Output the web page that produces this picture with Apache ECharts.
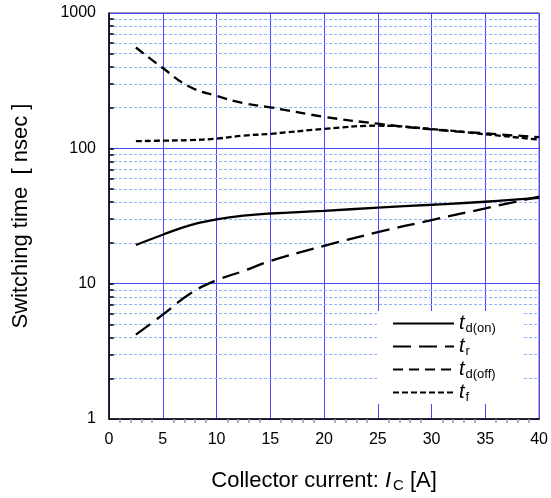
<!DOCTYPE html>
<html>
<head>
<meta charset="utf-8">
<script src="https://cdn.jsdelivr.net/npm/echarts@6/dist/echarts.min.js"></script>
<style>
  html, body { margin: 0; padding: 0; background: #fff; }
  #chart { width: 551px; height: 498px; }
</style>
</head>
<body>
<div id="chart"></div>
<script>
// Collector current [A]
const current = [2.5, 5, 7.5, 10, 12.5, 15, 20, 25, 30, 35, 40];
// Switching times [nsec]
const tdOn  = [19.3, 23, 27, 29.8, 31.8, 33, 34.5, 36.5, 38.3, 40.3, 43];
const tR    = [4.2, 5.9, 8.4, 10.6, 12.4, 14.7, 19, 24, 29.5, 36, 44];
const tdOff = [556, 392, 285, 244, 216, 201, 171, 152, 138, 129, 121];
const tF    = [113, 114, 115, 118, 124, 128, 139, 147, 139, 127, 116];

// Axis ticks
const xTicks = [0, 5, 10, 15, 20, 25, 30, 35, 40];
const yTicks = [1, 10, 100, 1000];
const yMinor = [2, 3, 4, 5, 6, 7, 8, 9, 20, 30, 40, 50, 60, 70, 80, 90, 200, 300, 400, 500, 600, 700, 800, 900];

const subs = { 'td(on)': 'd(on)', 'tr': 'r', 'td(off)': 'd(off)', 'tf': 'f' };

const pairs = ys => current.map((x, i) => [x, ys[i]]);

const FONT = '"Liberation Sans", Arial, sans-serif';

function curve(name, ys, dash) {
  return {
    name: name,
    type: 'line',
    data: pairs(ys),
    smooth: 0.45,
    symbol: 'none',
    lineStyle: { color: '#000', width: 2.3, type: dash },
    itemStyle: { color: '#000' },
    silent: true,
    z: 5
  };
}

// minor log gridlines and left-edge minor ticks
const minorGrid = yMinor.map(v => ({ yAxis: v }));
const leftTicks = yMinor.concat([10, 100]).map(v => [
  { coord: [0, v] }, { coord: [0.45, v] }
]);

const chart = echarts.init(document.getElementById('chart'));
chart.setOption({
  animation: false,
  backgroundColor: '#fff',
  textStyle: { fontFamily: FONT },
  grid: {
    left: 109, right: 8, top: 13, bottom: 75,
    show: true, borderColor: '#33337a', borderWidth: 1, backgroundColor: 'transparent'
  },
  xAxis: {
    type: 'value', min: 0, max: 40, interval: 5,
    axisLine: { lineStyle: { color: '#000', width: 1.5 } },
    axisTick: { show: false },
    minorTick: { show: true, splitNumber: 5, length: 4, lineStyle: { color: '#999', width: 1.5 } },
    axisLabel: { fontSize: 16, color: '#000', margin: 13, fontFamily: FONT },
    splitLine: { show: true, lineStyle: { color: '#4848ff', width: 1 } },
    name: '{a|Collector current: }{i|I}{s|C}{a| [A]}',
    nameLocation: 'middle', nameGap: 50,
    nameTextStyle: {
      rich: {
        a: { fontSize: 22, color: '#000', fontFamily: FONT },
        i: { fontSize: 22, color: '#000', fontStyle: 'italic', fontFamily: FONT },
        s: { fontSize: 15, color: '#000', fontFamily: FONT, padding: [9, 0, 0, 2] }
      }
    }
  },
  yAxis: {
    type: 'log', logBase: 10, min: 1, max: 1000,
    axisLine: { show: true, lineStyle: { color: '#000', width: 1.5 } },
    axisTick: { show: false },
    axisLabel: { fontSize: 16, color: '#000', margin: 13, fontFamily: FONT,
      formatter: v => String(v) },
    splitLine: { show: true, lineStyle: { color: '#4848ff', width: 1 } },
    name: 'Switching time  [ nsec ]',
    nameLocation: 'middle', nameGap: 77,
    nameTextStyle: { fontSize: 22, color: '#000', fontFamily: FONT }
  },
  legend: {
    data: ['td(on)', 'tr', 'td(off)', 'tf'],
    orient: 'vertical',
    left: 378, top: 311,
    z: 20,
    backgroundColor: '#fff',
    padding: [1, 27, 0, 14],
    itemWidth: 61, itemHeight: 12, itemGap: 0,
    itemStyle: { opacity: 0 },
    formatter: n => '{t|t}{s|' + subs[n] + '}',
    textStyle: {
      rich: {
        t: { fontSize: 20, fontStyle: 'italic', color: '#000', fontFamily: FONT, lineHeight: 21 },
        s: { fontSize: 13, color: '#000', fontFamily: FONT, padding: [10, 0, 0, 1], lineHeight: 21 }
      }
    }
  },
  series: [
    {
      name: 'grid-minor', type: 'line', data: [], silent: true, z: 1,
      markLine: {
        silent: true, symbol: 'none', animation: false, z: 1,
        label: { show: false },
        lineStyle: { color: '#8fb0ff', width: 1, type: [3, 2] },
        data: minorGrid
      }
    },
    {
      name: 'tick-minor', type: 'line', data: [], silent: true, z: 2,
      markLine: {
        silent: true, symbol: 'none', animation: false, z: 2,
        label: { show: false },
        lineStyle: { color: '#000', width: 1.5, type: 'solid' },
        data: leftTicks
      }
    },
    curve('td(on)', tdOn, 'solid'),
    curve('tr', tR, [18, 8]),
    curve('td(off)', tdOff, [10, 6]),
    curve('tf', tF, [6, 3])
  ]
});
</script>
</body>
</html>
